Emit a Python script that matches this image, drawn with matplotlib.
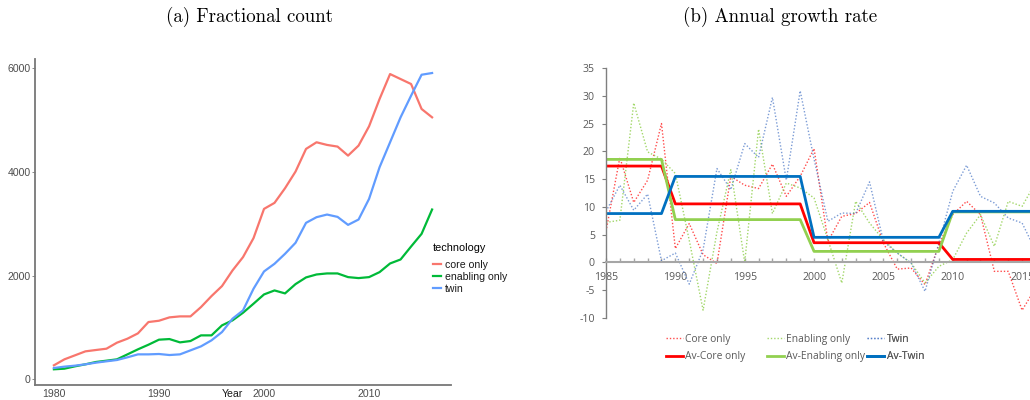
import numpy as np
import matplotlib
matplotlib.use("Agg")
import matplotlib.pyplot as plt
from matplotlib.ticker import MultipleLocator, FuncFormatter

plt.rcParams['axes.unicode_minus'] = False

# (a) fractional counts per year
years_a = list(range(1980, 2017))
core_only = [270, 385, 462, 539, 565, 590, 706, 783, 886, 1104, 1129, 1194, 1213,
             1213, 1392, 1604, 1797, 2098, 2355, 2721, 3285, 3401, 3683, 4004, 4441,
             4569, 4518, 4486, 4312, 4505, 4877, 5403, 5884, 5788, 5692, 5211, 5050]
enabling_only = [193, 205, 250, 289, 334, 359, 385, 481, 578, 667, 764, 776, 712,
                 738, 847, 847, 1040, 1136, 1283, 1457, 1636, 1713, 1656, 1835, 1964,
                 2021, 2041, 2041, 1970, 1951, 1970, 2066, 2233, 2310, 2560, 2804, 3273]
twin = [218, 244, 263, 289, 321, 347, 372, 424, 481, 481, 488, 468, 481, 558, 635,
        751, 911, 1168, 1328, 1745, 2079, 2227, 2419, 2631, 3016, 3125, 3176, 3131,
        2977, 3080, 3478, 4088, 4569, 5050, 5467, 5871, 5904]

# (b) annual growth rates (%) and period averages
years_b = list(range(1985, 2017))
core_growth = [5.6, 18.9, 10.8, 14.8, 25.0, 2.5, 7.0, 1.4, -0.2, 15.5,
               13.9, 13.3, 17.7, 11.9, 15.5, 20.5, 3.8, 8.3, 8.8, 10.8,
               3.5, -1.2, -1.0, -4.0, 3.2, 8.6, 11.0, 8.6, -1.6, -1.6,
               -8.6, -4.5]
enabling_growth = [7.2, 7.6, 28.7, 19.9, 18.6, 16.0, 4.0, -8.6, 5.5, 16.7,
                   0.0, 24.0, 8.8, 14.3, 13.4, 11.6, 4.1, -3.7, 11.0, 7.1,
                   4.1, 1.7, -0.1, -3.7, -0.7, 0.5, 5.3, 8.6, 2.9, 11.0,
                   10.1, 14.5]
twin_growth = [9.2, 13.9, 9.4, 12.3, 0.3, 1.7, -3.9, 2.3, 16.9, 13.1,
               21.4, 18.9, 29.7, 14.8, 30.9, 18.6, 7.4, 8.9, 8.8, 14.5,
               3.8, 1.7, -0.1, -5.2, 3.5, 12.8, 17.5, 11.9, 10.7, 8.0,
               7.1, 2.0]
av_core = [17.35, 17.35, 17.35, 17.35, 17.35,
           10.54, 10.54, 10.54, 10.54, 10.54, 10.54, 10.54, 10.54, 10.54, 10.54,
           3.55, 3.55, 3.55, 3.55, 3.55, 3.55, 3.55, 3.55, 3.55, 3.55,
           0.54, 0.54, 0.54, 0.54, 0.54, 0.54, 0.54]
av_enabling = [18.55, 18.55, 18.55, 18.55, 18.55,
               7.71, 7.71, 7.71, 7.71, 7.71, 7.71, 7.71, 7.71, 7.71, 7.71,
               1.99, 1.99, 1.99, 1.99, 1.99, 1.99, 1.99, 1.99, 1.99, 1.99,
               9.1, 9.1, 9.1, 9.1, 9.1, 9.1, 9.1]
av_twin = [8.8, 8.8, 8.8, 8.8, 8.8,
           15.48, 15.48, 15.48, 15.48, 15.48, 15.48, 15.48, 15.48, 15.48, 15.48,
           4.52, 4.52, 4.52, 4.52, 4.52, 4.52, 4.52, 4.52, 4.52, 4.52,
           9.2, 9.2, 9.2, 9.2, 9.2, 9.2, 9.2]

W, H = 1030, 400
fig = plt.figure(figsize=(W / 100, H / 100), dpi=100)

# ---------- (a) ggplot-style panel ----------
axa = fig.add_axes([35 / W, 1 - 384.5 / H, 416 / W, 325.8 / H])
gg = {'core only': '#F8766D', 'enabling only': '#00BA38', 'twin': '#619CFF'}
axa.plot(years_a, core_only, color=gg['core only'], lw=1.6, label='core only')
axa.plot(years_a, enabling_only, color=gg['enabling only'], lw=1.6, label='enabling only')
axa.plot(years_a, twin, color=gg['twin'], lw=1.6, label='twin')
axa.set_xlim(1978.2, 2017.8)
axa.set_ylim(-100, 6180)
axa.set_xticks([1980, 1990, 2000, 2010])
axa.set_yticks([0, 2000, 4000, 6000])
for s in ['top', 'right']:
    axa.spines[s].set_visible(False)
for s in ['left', 'bottom']:
    axa.spines[s].set_color('#777777')
    axa.spines[s].set_linewidth(1.3)
axa.tick_params(axis='x', length=0, pad=3, labelsize=7.6, labelcolor='#4D4D4D')
axa.tick_params(axis='y', length=2, width=0.6, color='#777777', pad=1,
                labelsize=7.6, labelcolor='#4D4D4D')
for lab in axa.get_xticklabels() + axa.get_yticklabels():
    lab.set_family('Liberation Sans')
axa.set_xlabel('Year', fontsize=7.6, family='Liberation Sans', color='#1A1A1A')
axa.xaxis.set_label_coords(0.4736, -0.014)
leg_a = axa.legend(loc='upper left', bbox_to_anchor=(433 / W, 1 - 243 / H),
                   bbox_transform=fig.transFigure, frameon=False, title='technology',
                   prop={'family': 'Liberation Sans', 'size': 7.6},
                   handlelength=0.75, handletextpad=0.4, labelspacing=0.2,
                   borderpad=0, borderaxespad=0, alignment='left')
leg_a.get_title().set_fontsize(7.8)
leg_a.get_title().set_family('Liberation Sans')
leg_a._legend_box.sep = 5
for t in leg_a.get_texts():
    t.set_color('#1A1A1A')

# ---------- (b) Excel-style panel ----------
px_year = 13.87
axb = fig.add_axes([606 / W, 1 - 318 / H, (2016 - 1985) * px_year / W, 250 / H])
c_core, c_en, c_tw = '#FF0000', '#92D050', '#4472C4'
dot = (0, (1, 1.4))
axb.plot(years_b, core_growth, color=c_core, lw=1.0, ls=dot, alpha=0.7, label='Core only')
axb.plot(years_b, enabling_growth, color=c_en, lw=1.0, ls=dot, alpha=0.85, label='Enabling only')
axb.plot(years_b, twin_growth, color=c_tw, lw=1.0, ls=dot, alpha=0.7, label='Twin')
axb.plot(years_b, av_core, color='#FF0000', lw=2.0, label='Av-Core only')
axb.plot(years_b, av_enabling, color='#92D050', lw=2.0, label='Av-Enabling only')
axb.plot(years_b, av_twin, color='#0070C0', lw=2.0, label='Av-Twin')
axb.set_xlim(1985, 2016)
axb.set_ylim(-10, 35)
axb.yaxis.set_major_locator(MultipleLocator(5))
axb.xaxis.set_major_locator(MultipleLocator(5))
axb.xaxis.set_minor_locator(MultipleLocator(1))
axb.xaxis.set_major_formatter(FuncFormatter(lambda v, p: f'{int(v)}'))
for s in ['top', 'right']:
    axb.spines[s].set_visible(False)
axb.spines['bottom'].set_position(('data', 0))
axb.spines['bottom'].set_color('#A6A6A6')
axb.spines['bottom'].set_linewidth(1.5)
axb.spines['left'].set_color('#7F7F7F')
axb.spines['left'].set_linewidth(1.0)
axb.tick_params(axis='x', which='both', direction='in', length=3, width=1.0,
                color='#A6A6A6', pad=7, labelsize=7.6, labelcolor='#595959')
axb.tick_params(axis='y', direction='out', length=3, width=0.8, color='#7F7F7F',
                pad=5, labelsize=7.6, labelcolor='#595959')
for lab in axb.get_xticklabels() + axb.get_yticklabels():
    lab.set_family('Open Sans')

handles, labels = axb.get_legend_handles_labels()
for col, x0 in enumerate([665.5, 766.5, 867]):
    hs = [handles[col], handles[col + 3]]
    ls = [labels[col], labels[col + 3]]
    lg = axb.legend(hs, ls, loc='upper left', bbox_to_anchor=(x0 / W, 1 - 334 / H),
                    bbox_transform=fig.transFigure, frameon=False,
                    prop={'family': 'Open Sans', 'size': 7.4},
                    handlelength=1.7, handletextpad=0.2, labelspacing=0.62,
                    borderpad=0, borderaxespad=0)
    for t in lg.get_texts():
        t.set_color('#595959')
    axb.add_artist(lg)

# panel titles
fig.text(250 / W, 1 - 17 / H, '(a) Fractional count', ha='center', va='center',
         family='cmr10', fontsize=13.6)
fig.text(780 / W, 1 - 17 / H, '(b) Annual growth rate', ha='center', va='center',
         family='cmr10', fontsize=13.6)

fig.savefig('out.png', dpi=100)
